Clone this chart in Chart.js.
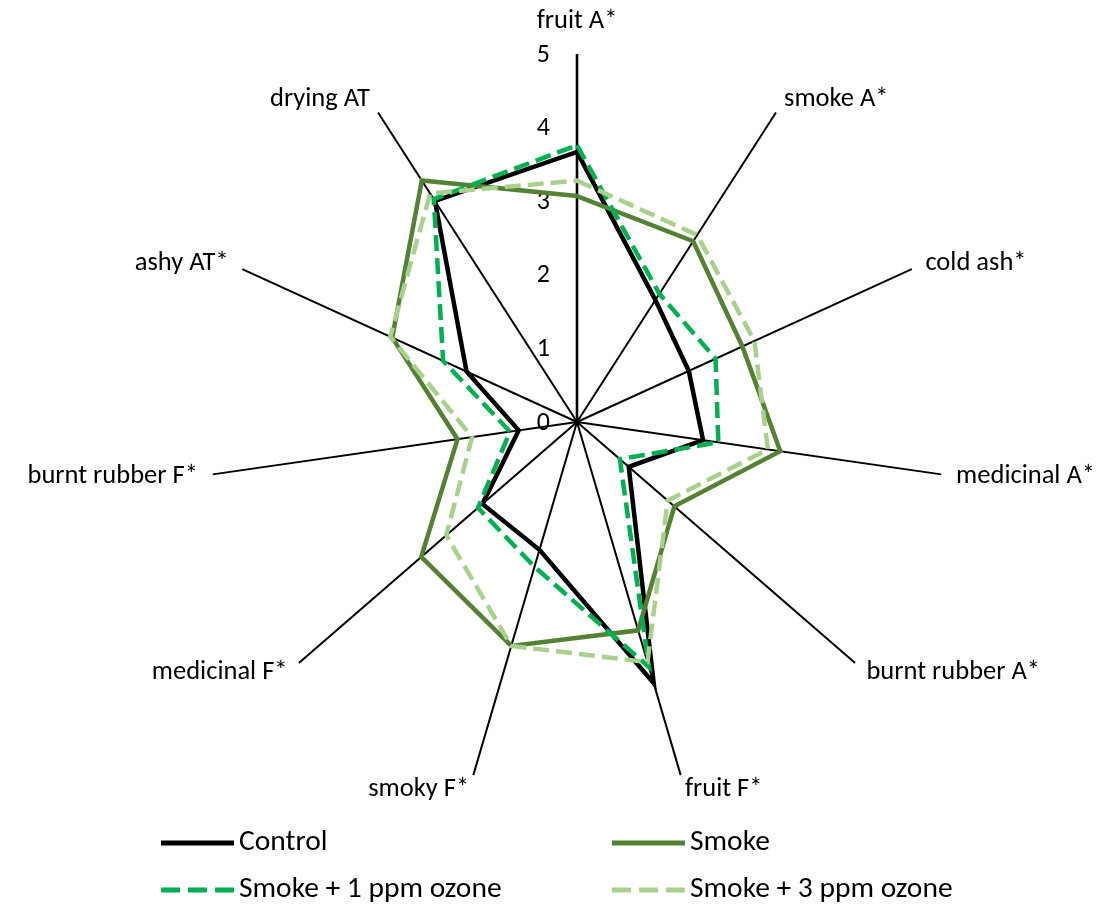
<!DOCTYPE html>
<html><head><meta charset="utf-8">
<script src="https://cdn.jsdelivr.net/npm/chart.js@4.4.1/dist/chart.umd.min.js"></script>
<style>html,body{margin:0;padding:0;background:#fff;overflow:hidden}canvas{display:block}</style>
</head><body>
<canvas id="c" width="1112" height="904"></canvas>
<script>
// ---- data ----
const categories = ['fruit A*','smoke A*','cold ash*','medicinal A*','burnt rubber A*','fruit F*','smoky F*','medicinal F*','burnt rubber F*','ashy AT*','drying AT'];
const seriesNames = ['Control','Smoke','Smoke + 1 ppm ozone','Smoke + 3 ppm ozone'];
const controlValues = [3.67, 1.97, 1.67, 1.73, 0.93, 3.70, 1.81, 1.70, 0.80, 1.65, 3.57];
const smokeValues   = [3.07, 2.92, 2.47, 2.79, 1.75, 2.95, 3.17, 2.80, 1.64, 2.76, 3.90];
const ozone1Values  = [3.76, 2.07, 2.07, 1.94, 0.77, 3.47, 2.05, 1.78, 0.92, 2.00, 3.60];
const ozone3Values  = [3.28, 3.02, 2.65, 2.62, 1.63, 3.40, 3.17, 2.35, 1.44, 2.79, 3.69];
const tickLabels = ['0','1','2','3','4','5'];

const FAMILY = 'Carlito, Calibri, Lato, sans-serif';
const LABEL_FONT = '26.5px ' + FAMILY;
const TICK_FONT = '26px ' + FAMILY;
const LEGEND_FONT = '29.5px ' + FAMILY;

const textPlugin = {
  id: 'textPlugin',
  beforeDatasetsDraw(chart) {
    const s = chart.scales.r, ctx = chart.ctx;
    ctx.save();
    ctx.font = TICK_FONT; ctx.fillStyle = '#000';
    ctx.textAlign = 'right'; ctx.textBaseline = 'middle';
    tickLabels.forEach(t => {
      const p = s.getPointPositionForValue(0, Number(t));
      ctx.fillText(t, s.xCenter - 27, p.y + 1);
    });
    ctx.restore();
  },
  afterDraw(chart) {
    const s = chart.scales.r, ctx = chart.ctx;
    ctx.save();
    ctx.font = LABEL_FONT; ctx.fillStyle = '#000'; ctx.textBaseline = 'middle';
    categories.forEach((lab, i) => {
      if (i === 0) {
        ctx.textAlign = 'center';
        ctx.fillText(lab, s.xCenter, s.yCenter - s.drawingArea - 33);
        return;
      }
      const p = s.getPointPosition(i, s.drawingArea + 15);
      const deg = (i * 360 / categories.length);
      ctx.textAlign = deg < 180 ? 'left' : 'right';
      ctx.fillText(lab, p.x, p.y);
    });
    // legend
    ctx.font = LEGEND_FONT;
    const slots = [[161, 843], [612, 843], [161, 890], [612, 890]];
    chart.data.datasets.forEach((d, i) => {
      const [x, y] = slots[i];
      ctx.strokeStyle = d.borderColor; ctx.lineWidth = 5; ctx.lineCap = 'butt';
      ctx.setLineDash(d.borderDash && d.borderDash.length ? [19, 8] : []);
      ctx.beginPath(); ctx.moveTo(x, y); ctx.lineTo(x + 73, y); ctx.stroke();
      ctx.setLineDash([]);
      ctx.textAlign = 'left';
      ctx.fillText(d.label, x + 78, y);
    });
    ctx.restore();
  }
};

new Chart(document.getElementById('c'), {
  type: 'radar',
  data: {
    labels: categories,
    datasets: [
      { label: seriesNames[0], data: controlValues, borderColor: '#000000', borderWidth: 4.5, order: 3 },
      { label: seriesNames[1], data: smokeValues, borderColor: '#548235', borderWidth: 4.5, order: 2 },
      { label: seriesNames[2], data: ozone1Values, borderColor: '#00B050', borderWidth: 4.5, borderDash: [16, 7], order: 1 },
      { label: seriesNames[3], data: ozone3Values, borderColor: '#A9D18E', borderWidth: 4.5, borderDash: [16, 7], order: 0 }
    ].map(d => Object.assign({ fill: false, pointRadius: 0, pointHoverRadius: 0, tension: 0, backgroundColor: 'transparent', borderJoinStyle: 'miter' }, d))
  },
  options: {
    responsive: false,
    animation: false,
    plugins: { legend: { display: false }, tooltip: { enabled: false } },
    layout: { padding: 0 },
    scales: {
      r: {
        min: 0, max: 5,
        ticks: { display: false, stepSize: 1 },
        grid: { display: false },
        angleLines: { display: true, color: '#000', lineWidth: c => c.index === 0 ? 2.6 : 2 },
        pointLabels: { display: false },
        afterFit: s => { s.xCenter = 577; s.yCenter = 422; s.drawingArea = 368; }
      }
    }
  },
  plugins: [textPlugin]
});
</script>
</body></html>
